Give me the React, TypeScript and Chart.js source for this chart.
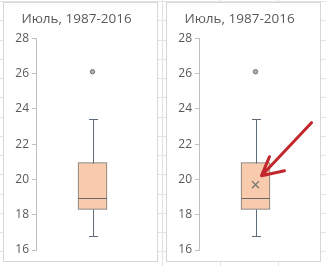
import React, { useEffect, useRef } from 'react';
import { Chart, registerables } from 'chart.js';
Chart.register(...registerables);

const chartTitle = 'Июль, 1987-2016';
const categories = ['Июль'];
const whiskerMin = [16.8];
const quartile1 = [18.3];
const medians = [18.95];
const quartile3 = [20.95];
const whiskerMax = [23.4];
const outliers = [26.1];
const means = [19.7];
const yMin = 16;
const yMax = 28;
const yStep = 2;

const FONT = "'Open Sans', 'Noto Sans', sans-serif";
const LINE = '#5f6b78';

function BoxChart({ showMean, showArrow }: { showMean: boolean; showArrow: boolean }) {
  const ref = useRef<HTMLCanvasElement>(null);
  useEffect(() => {
    const boxPlugin = {
      id: 'boxExtras',
      afterDatasetsDraw(chart: any) {
        const ctx = chart.ctx;
        const y = chart.scales.y;
        const meta = chart.getDatasetMeta(0);
        categories.forEach((_, i) => {
          const bar: any = meta.data[i];
          if (!bar) return;
          const cx = Math.round(bar.x) + 0.5;
          const half = bar.width / 2;
          const py = (v: number) => Math.round(y.getPixelForValue(v)) + 0.5;
          ctx.save();
          ctx.strokeStyle = LINE;
          ctx.lineWidth = 1;
          ctx.beginPath();
          ctx.moveTo(cx, py(quartile3[i]));
          ctx.lineTo(cx, py(whiskerMax[i]));
          ctx.moveTo(cx, py(quartile1[i]));
          ctx.lineTo(cx, py(whiskerMin[i]));
          ctx.moveTo(cx - 4.5, py(whiskerMax[i]));
          ctx.lineTo(cx + 4.5, py(whiskerMax[i]));
          ctx.moveTo(cx - 4.5, py(whiskerMin[i]));
          ctx.lineTo(cx + 4.5, py(whiskerMin[i]));
          ctx.stroke();
          ctx.strokeStyle = '#6b6b6b';
          ctx.beginPath();
          ctx.moveTo(bar.x - half, py(medians[i]));
          ctx.lineTo(bar.x + half, py(medians[i]));
          ctx.stroke();
          ctx.restore();
        });
      },
      afterDraw(chart: any) {
        if (!showArrow) return;
        const meta = chart.getDatasetMeta(2);
        const pt: any = meta && meta.data[0];
        if (!pt) return;
        const ctx = chart.ctx;
        const tx = pt.x + 6;
        const ty = pt.y - 9;
        ctx.save();
        ctx.strokeStyle = '#c1272d';
        ctx.lineWidth = 3;
        ctx.lineCap = 'round';
        ctx.lineJoin = 'round';
        ctx.beginPath();
        ctx.moveTo(tx + 50, ty - 53);
        ctx.lineTo(tx, ty);
        ctx.moveTo(tx + 8, ty - 19);
        ctx.lineTo(tx, ty);
        ctx.lineTo(tx + 23, ty - 5);
        ctx.stroke();
        ctx.restore();
      },
    };

    const datasets: any[] = [
      {
        type: 'bar',
        order: 5,
        data: categories.map((_, i) => [quartile1[i], quartile3[i]]),
        backgroundColor: '#f8cbad',
        borderColor: '#767676',
        borderWidth: 1,
        borderSkipped: false,
        barThickness: 29,
      },
      {
        type: 'line',
        order: 1,
        data: outliers,
        showLine: false,
        pointRadius: 2.2,
        pointBackgroundColor: '#b0b0b0',
        pointBorderColor: '#6f6f6f',
        pointBorderWidth: 1,
      },
    ];
    if (showMean) {
      datasets.push({
        type: 'line',
        order: 0,
        data: means,
        showLine: false,
        pointStyle: 'crossRot',
        pointRadius: 5,
        pointBorderColor: '#707070',
        pointBackgroundColor: '#707070',
        pointBorderWidth: 1.2,
      });
    }

    const chart = new Chart(ref.current as HTMLCanvasElement, {
      type: 'bar',
      data: { labels: categories, datasets },
      options: {
        responsive: false,
        animation: false,
        devicePixelRatio: 1,
        layout: { padding: { left: 0, right: 8, top: 0, bottom: 11 } },
        plugins: {
          legend: { display: false },
          tooltip: { enabled: false },
          title: {
            display: true,
            text: chartTitle,
            color: '#595959',
            font: { family: FONT, size: 13.5, weight: 'normal' },
            padding: { top: 8, bottom: 11 },
          },
        },
        scales: {
          x: { display: false, offset: true },
          y: {
            min: yMin,
            max: yMax,
            ticks: {
              stepSize: yStep,
              color: '#595959',
              font: { family: FONT, size: 12 },
              padding: 3,
            },
            grid: { drawOnChartArea: false, drawTicks: true, tickLength: 4, color: '#bfbfbf' },
            border: { display: true, color: '#bfbfbf' },
            afterFit: (s: any) => {
              s.width = 32;
            },
          },
        },
      } as any,
      plugins: [boxPlugin],
    });
    return () => chart.destroy();
  }, [showMean, showArrow]);
  return <canvas ref={ref} width={153} height={258} style={{ display: 'block' }} />;
}

const rowLines = Array.from({ length: 14 }, (_, k) => 1 + k * 19.25);
const colLines = [162, 220, 278];

export default function App() {
  return (
    <div
      style={{
        position: 'absolute',
        left: 0,
        top: 0,
        width: 326,
        height: 266,
        background: '#ffffff',
        overflow: 'hidden',
      }}
    >
      {rowLines.map((y, i) => (
        <div
          key={'r' + i}
          style={{ position: 'absolute', left: 0, top: Math.round(y), width: 326, height: 1, background: '#e3e3e3' }}
        />
      ))}
      {colLines.map((x, i) => (
        <div
          key={'c' + i}
          style={{ position: 'absolute', left: x, top: 0, width: 1, height: 266, background: '#e3e3e3' }}
        />
      ))}
      {[3, 166].map((left, i) => (
        <div
          key={'p' + i}
          style={{
            position: 'absolute',
            left,
            top: 2,
            width: 155,
            height: 260,
            boxSizing: 'border-box',
            border: '1px solid #d6d6d6',
            background: '#ffffff',
          }}
        >
          <BoxChart showMean={i === 1} showArrow={i === 1} />
        </div>
      ))}
    </div>
  );
}
